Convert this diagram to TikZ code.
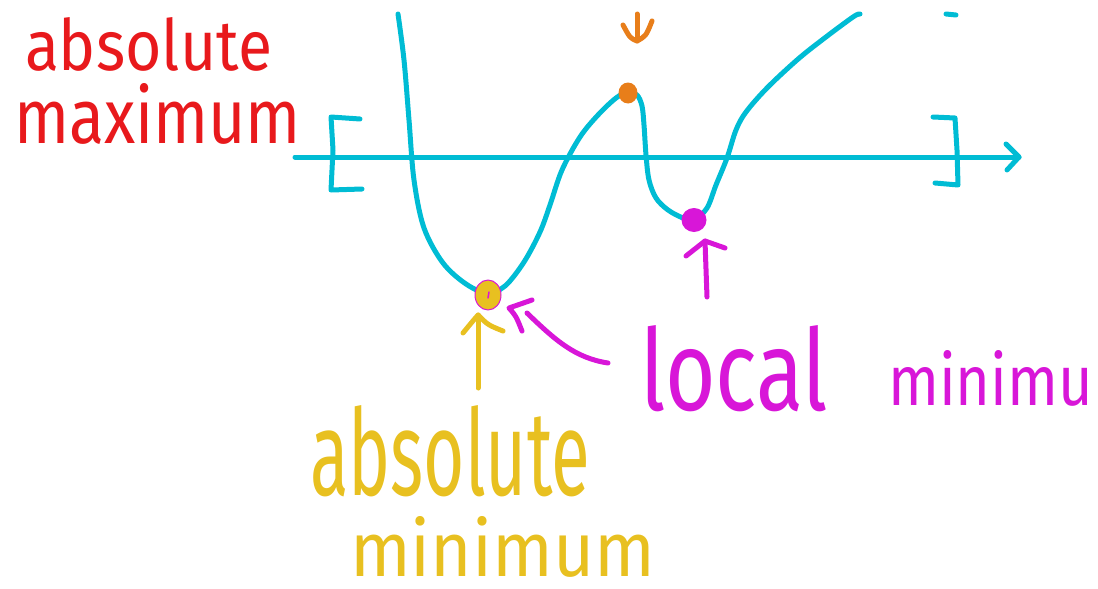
\documentclass[tikz,border=0pt]{standalone}
\usepackage{fontspec}
\setmainfont{Fira Sans}
\definecolor{cy}{RGB}{0,188,212}
\definecolor{hred}{RGB}{232,25,28}
\definecolor{horange}{RGB}{232,126,26}
\definecolor{hmag}{RGB}{216,22,216}
\definecolor{hyel}{RGB}{232,192,32}
\begin{document}
\begin{tikzpicture}[x=1pt,y=-1pt,line cap=round,line join=round]
\useasboundingbox (0,0) rectangle (1098,589);
\tikzset{
  pen/.style={line width=5pt},
  curvepen/.style={pen,cy},
  lbl/.style={anchor=base west,inner sep=0pt,outer sep=0pt}
}
% axis
\coordinate (axL) at (295,157);
\coordinate (axR) at (1019,157);
\draw[curvepen] (axL) -- (axR);
\draw[curvepen] (1006,144) -- (axR) -- (1007,170);
% brackets
\draw[curvepen] (360,119) -- (331,117) -- (333,150) -- (331,190) -- (362,189);
\draw[curvepen] (933,117) -- (955,118) -- (957,150) -- (958,185) -- (935,183);
% function curve
\draw[curvepen] plot[smooth,tension=0.55] coordinates {
 (398,14) (404,60) (409,120) (414,180) (424,228) (443,263) (466,284) (487,293)
 (505,286) (524,262) (540,232) (550,205) (562,170) (580,137) (598,115) (616,98) (628,92)
 (637,95) (642,106) (644,125) (646,155) (649,180) (656,198) (668,210) (683,218) (694,220)
 (707,208) (716,185) (727,158) (736,130) (746,112) (767,88) (797,60) (822,40) (853,17) (860,14)};
\draw[curvepen] (946,14) -- (956,15);
% points
\coordinate (maxpt) at (628,93);
\coordinate (locmin) at (694,220);
\coordinate (absmin) at (488,295);
\fill[horange] (maxpt) circle[x radius=9.5pt,y radius=10.5pt];
\fill[hmag] (locmin) circle[x radius=12.5pt,y radius=12pt];
\fill[hyel,draw=hmag,line width=1pt] (absmin) circle[x radius=13pt,y radius=15pt];
\draw[hmag,line width=1.5pt] (489,292) -- (488,298);
% orange arrow (down)
\coordinate (oaT) at (637,14);
\coordinate (oaB) at (637,41);
\draw[horange,pen] (oaT) -- (oaB);
\draw[horange,pen] (623,25) .. controls (630,38) .. (oaB) .. controls (646,36) .. (652,21);
% magenta arrow (up) under local min
\coordinate (maB) at (707,297);
\coordinate (maT) at (705,241);
\draw[hmag,pen] (maB) -- (maT);
\draw[hmag,pen] (686,256) -- (maT) -- (725,248);
% yellow arrow (up)
\coordinate (yaB) at (478,388);
\coordinate (yaT) at (478,315);
\draw[hyel,pen] (yaB) -- (yaT);
\draw[hyel,pen] (463,333) .. controls (472,322) .. (yaT) .. controls (488,325) .. (503,331);
% magenta curved arrow
\coordinate (mcS) at (608,363);
\coordinate (mcT) at (527,313);
\coordinate (mcA) at (509,308);
\draw[hmag,pen] (mcS) .. controls (575,358) and (555,340) .. (mcT);
\draw[hmag,pen] (532,300) -- (mcA) .. controls (516,316) .. (522,331);
% labels
\node[lbl,text=hred] (amax1) at (25,70) {\resizebox{247pt}{53pt}{absolute}};
\node[lbl,text=hred] (amax2) at (14,143) {\resizebox{287pt}{60pt}{maximum}};
\node[lbl,text=hmag] (loc) at (640,410) {\resizebox{188pt}{85pt}{local}};
\node[lbl,text=hmag] (mini) at (888,405) {\resizebox{205pt}{55pt}{minimu}};
\node[lbl,text=hyel] (amin1) at (310,495) {\resizebox{280pt}{90pt}{absolute}};
\node[lbl,text=hyel] (amin2) at (350,576) {\resizebox{305pt}{60pt}{minimum}};
\end{tikzpicture}
\end{document}
